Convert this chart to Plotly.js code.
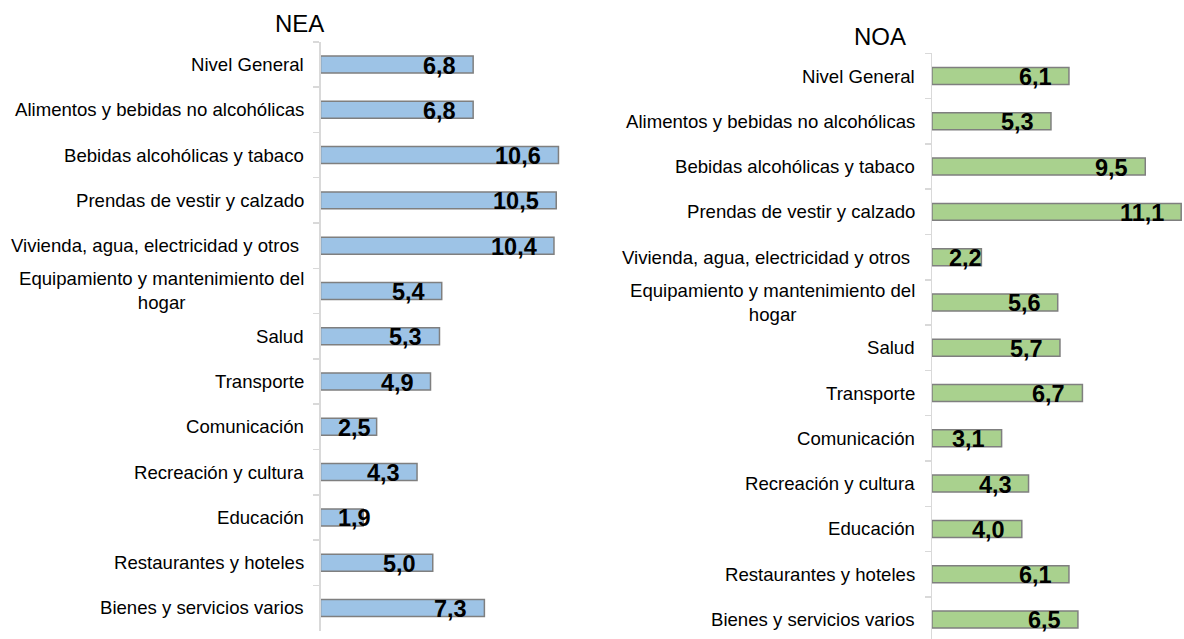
<!DOCTYPE html>
<html>
<head>
<meta charset="utf-8">
<script src="https://cdn.plot.ly/plotly-3.0.1.min.js"></script>
<style>html,body{margin:0;padding:0;background:#fff;}#chart{width:1184px;height:639px;}</style>
</head>
<body>
<div id="chart"></div>
<script>
// ---- data ----
const categories = [
  "Nivel General",
  "Alimentos y bebidas no alcohólicas",
  "Bebidas alcohólicas y tabaco",
  "Prendas de vestir y calzado",
  "Vivienda, agua, electricidad y otros\u00a0",
  "Equipamiento y mantenimiento del<br>hogar",
  "Salud",
  "Transporte",
  "Comunicación",
  "Recreación y cultura",
  "Educación",
  "Restaurantes y hoteles",
  "Bienes y servicios varios"
];
const neaValues = [6.8, 6.8, 10.6, 10.5, 10.4, 5.4, 5.3, 4.9, 2.5, 4.3, 1.9, 5.0, 7.3];
const noaValues = [6.1, 5.3, 9.5, 11.1, 2.2, 5.6, 5.7, 6.7, 3.1, 4.3, 4.0, 6.1, 6.5];
const panelTitles = ["NEA", "NOA"];

// ---- layout constants ----
const W = 1184, H = 639;
const PX = 22.45;           // pixels per unit on the value axes
const neaX0 = 320.5, noaX0 = 932;
const rowH = 45.29;
const neaTop = 64.5 - rowH / 2;
const noaTop = 76 - rowH / 2;
const neaRangeMax = 12;
const noaRangeMax = (W - noaX0) / PX;
const noaBottomVal = -0.5 + (H - noaTop) / rowH;

const VAL_SIZE = 23.5, CAT_SIZE = 18.6;
const labelFont = "bold " + VAL_SIZE + "px 'Liberation Sans', Arial, sans-serif";
const ctx = document.createElement("canvas").getContext("2d");
ctx.font = labelFont;
function tw(s) { const w = ctx.measureText(s).width; return w > 0 ? w : s.length * 11; }
function fmt(v) { return v.toFixed(1).replace(".", ","); }

const blue = "#9DC3E6", green = "#A9D18E";

const traces = [
  {type: "bar", orientation: "h", x: neaValues, y: categories, xaxis: "x", yaxis: "y",
   width: 0.375, marker: {color: blue, line: {color: "#7f7f7f", width: 1.5}}, hoverinfo: "none"},
  {type: "bar", orientation: "h", x: noaValues, y: categories, xaxis: "x2", yaxis: "y2",
   width: 0.375, marker: {color: green, line: {color: "#7f7f7f", width: 1.5}}, hoverinfo: "none"}
];

const annotations = [];
function addPanel(values, xref, yref, x0) {
  categories.forEach((c, i) => {
    // category label
    annotations.push({xref: "paper", yref: yref, x: x0 / W, y: c, text: c,
      xanchor: "right", yanchor: "middle", align: "center", xshift: -15, showarrow: false,
      font: {family: "Liberation Sans, Arial, sans-serif", size: CAT_SIZE, color: "#000"}});
    // value label
    const t = fmt(values[i]);
    const fits = values[i] * PX - 34 >= tw(t);
    annotations.push({xref: xref, yref: yref, x: fits ? values[i] : 0, y: c, text: "<b>" + t + "</b>",
      xanchor: fits ? "right" : "left", yanchor: "middle", xshift: fits ? -15 : 15, yshift: -1,
      showarrow: false, font: {family: "Liberation Sans, Arial, sans-serif", size: VAL_SIZE, color: "#000"}});
  });
}
addPanel(neaValues, "x", "y", neaX0);
addPanel(noaValues, "x2", "y2", noaX0);

annotations.push({xref: "paper", yref: "paper", x: 299 / W, y: 1 - 24 / H, text: panelTitles[0],
  xanchor: "center", yanchor: "middle", showarrow: false,
  font: {family: "Liberation Sans, Arial, sans-serif", size: 24, color: "#000"}});
annotations.push({xref: "paper", yref: "paper", x: 880 / W, y: 1 - 37 / H, text: panelTitles[1],
  xanchor: "center", yanchor: "middle", showarrow: false,
  font: {family: "Liberation Sans, Arial, sans-serif", size: 24, color: "#000"}});

const yCommon = {type: "category", categoryorder: "array", categoryarray: categories,
  showticklabels: false, showline: true, linecolor: "#d9d9d9", linewidth: 1.5,
  ticks: "outside", tickson: "boundaries", ticklen: 6, tickcolor: "#d9d9d9", tickwidth: 1.5,
  showgrid: false, zeroline: false, fixedrange: true};
const xCommon = {showline: false, showticklabels: false, ticks: "", showgrid: false, zeroline: false, fixedrange: true};

const layout = {
  width: W, height: H,
  margin: {l: 0, r: 0, t: 0, b: 0},
  paper_bgcolor: "#fff", plot_bgcolor: "rgba(0,0,0,0)",
  showlegend: false,
  xaxis: Object.assign({}, xCommon, {domain: [neaX0 / W, (neaX0 + neaRangeMax * PX) / W], range: [0, neaRangeMax], anchor: "y"}),
  yaxis: Object.assign({}, yCommon, {domain: [1 - (neaTop + 13 * rowH) / H, 1 - neaTop / H], range: [12.5, -0.5], anchor: "x"}),
  xaxis2: Object.assign({}, xCommon, {domain: [noaX0 / W, 1], range: [0, noaRangeMax], anchor: "y2"}),
  yaxis2: Object.assign({}, yCommon, {domain: [0, 1 - noaTop / H], range: [noaBottomVal, -0.5], anchor: "x2"}),
  annotations: annotations
};

Plotly.newPlot("chart", traces, layout, {displayModeBar: false, staticPlot: true});
</script>
</body>
</html>
